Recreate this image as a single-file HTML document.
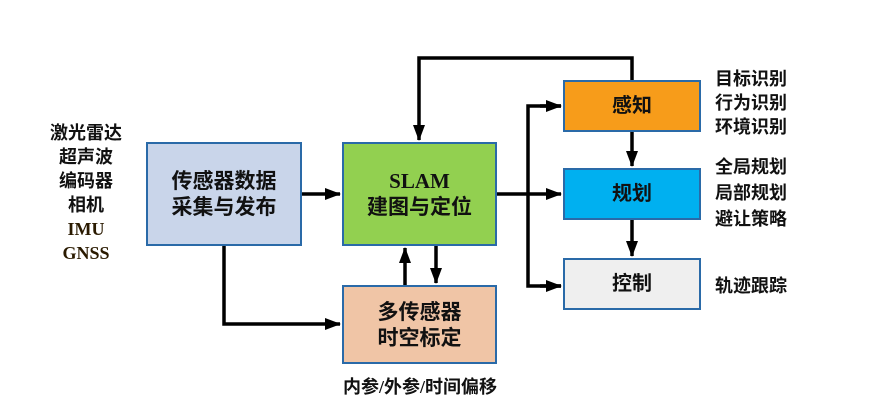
<!DOCTYPE html>
<html><head><meta charset="utf-8"><style>
body{margin:0;width:871px;height:412px;background:#fff;overflow:hidden;font-family:"Liberation Serif","Noto Serif CJK SC","Noto Sans CJK SC",serif;}
.b{position:absolute;box-sizing:border-box;border:2px solid #2a6aa8;display:flex;align-items:center;justify-content:center;text-align:center;font-weight:bold;font-size:21px;line-height:26px;color:#111;font-family:"Liberation Serif","Noto Sans CJK SC",sans-serif;}
.t{position:absolute;font-weight:bold;font-size:18px;line-height:24px;color:#111;font-family:"Liberation Serif","Noto Sans CJK SC",sans-serif;white-space:nowrap;}
</style></head><body>
<svg width="871" height="412" style="position:absolute;left:0;top:0">
<defs><marker id="m" markerWidth="16" markerHeight="12" refX="15" refY="6" orient="auto" markerUnits="userSpaceOnUse"><path d="M0,0 L16,6 L0,12z" fill="#000"/></marker></defs>
<g stroke="#000" stroke-width="3.5" fill="none">
<path d="M302,194 H340" marker-end="url(#m)"/>
<path d="M224,246 V324 H340" marker-end="url(#m)"/>
<path d="M632,80 V58 H419 V140" marker-end="url(#m)"/>
<path d="M405,285 V248" marker-end="url(#m)"/>
<path d="M436,246 V283" marker-end="url(#m)"/>
<path d="M497,194 H561" marker-end="url(#m)"/>
<path d="M561,106 H528 V286 H561" />
<path d="M540,106 H561" marker-end="url(#m)"/>
<path d="M540,286 H561" marker-end="url(#m)"/>
<path d="M632,132 V166" marker-end="url(#m)"/>
<path d="M632,220 V256" marker-end="url(#m)"/>
</g></svg>
<div class="b" style="left:146px;top:142px;width:156px;height:104px;background:#c9d5ea;">传感器数据<br>采集与发布</div>
<div class="b" style="left:342px;top:142px;width:155px;height:104px;background:#92d050;">SLAM<br>建图与定位</div>
<div class="b" style="left:342px;top:285px;width:155px;height:79px;background:#f0c5a6;">多传感器<br>时空标定</div>
<div class="b" style="left:563px;top:80px;width:138px;height:52px;background:#f79c1a;font-size:20px">感知</div>
<div class="b" style="left:563px;top:168px;width:138px;height:52px;background:#00b0f0;font-size:20px">规划</div>
<div class="b" style="left:563px;top:258px;width:138px;height:52px;background:#efefef;font-size:20px">控制</div>
<div class="t" style="left:36px;top:121px;width:100px;text-align:center">激光雷达<br>超声波<br>编码器<br>相机<br><span style="color:#2a1a00">IMU</span><br><span style="color:#2a1a00">GNSS</span></div>
<div class="t" style="left:715px;top:67px">目标识别<br>行为识别<br>环境识别</div>
<div class="t" style="left:715px;top:154px;line-height:26px">全局规划<br>局部规划<br>避让策略</div>
<div class="t" style="left:715px;top:274px">轨迹跟踪</div>
<div class="t" style="left:320px;top:375px;width:200px;text-align:center">内参/外参/时间偏移</div>
</body></html>
